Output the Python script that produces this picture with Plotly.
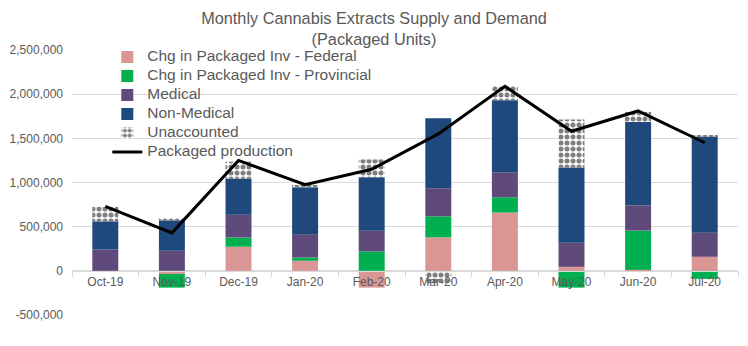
import plotly.graph_objects as go

months = ["Oct-19", "Nov-19", "Dec-19", "Jan-20", "Feb-20", "Mar-20", "Apr-20", "May-20", "Jun-20", "Jul-20"]
federal = [0, -35000, 273000, 114000, -190000, 379000, 660000, 45000, 12000, 159000]
provincial = [0, -155000, 105000, 37000, 220000, 238000, 173000, -190000, 443000, -91000]
medical = [242000, 227000, 258000, 258000, 235000, 318000, 281000, 273000, 287000, 273000]
non_medical = [318000, 345000, 406000, 538000, 605000, 792000, 818000, 852000, 943000, 1091000]
unaccounted = [164000, 27000, 193000, 25000, 201000, -140000, 162000, 542000, 114000, 14000]
production = [730000, 430000, 1250000, 975000, 1150000, 1550000, 2090000, 1580000, 1810000, 1450000]

series_names = ["Chg in Packaged Inv - Federal", "Chg in Packaged Inv - Provincial",
                "Medical", "Non-Medical", "Unaccounted", "Packaged production"]

y_ticks = [-500000, 0, 500000, 1000000, 1500000, 2000000, 2500000]
y_tick_text = ["-500,000", "0", "500,000", "1,000,000", "1,500,000", "2,000,000", "2,500,000"]
y_min, y_max = -500000, 2500000

FONT = "Liberation Sans, Arial, sans-serif"
GREY = "#595959"


def leg(name):
    return '<span style="font-size:15.5px">' + name + "</span>"


checker = dict(shape=".", fgcolor="black", bgcolor="white", size=6, solidity=0.55)

fig = go.Figure()
fig.add_bar(x=months, y=federal, name=leg(series_names[0]),
            marker=dict(color="#DA9694", line_width=0))
fig.add_bar(x=months, y=provincial, name=leg(series_names[1]),
            marker=dict(color="#00B050", line_width=0))
fig.add_bar(x=months, y=medical, name=leg(series_names[2]),
            marker=dict(color="#604A7B", line_width=0))
fig.add_bar(x=months, y=non_medical, name=leg(series_names[3]),
            marker=dict(color="#1F497D", line_width=0))
fig.add_bar(x=months, y=unaccounted, name=leg(series_names[4]),
            marker=dict(color="white", line_width=0, pattern=checker))
fig.add_scatter(x=months, y=production, name=leg(series_names[5]), mode="lines",
                line=dict(color="black", width=3))

fig.update_layout(
    width=748, height=346,
    barmode="relative", bargap=0.61,
    plot_bgcolor="white", paper_bgcolor="white",
    margin=dict(l=72, r=10, t=50, b=31),
    font=dict(family=FONT, color=GREY),
    title=dict(text="Monthly Cannabis Extracts Supply and Demand<br>(Packaged Units)",
               x=0.5, xref="container", xanchor="center",
               y=0.93, yref="container", yanchor="top",
               font=dict(size=16.3, color=GREY, family=FONT)),
    legend=dict(x=0.053, y=1.028, xanchor="left", yanchor="top",
                bgcolor="rgba(0,0,0,0)", traceorder="normal",
                font=dict(size=11, color=GREY, family=FONT)),
    showlegend=True,
)
fig.update_yaxes(range=[y_min, y_max], tickmode="array", tickvals=y_ticks, ticktext=y_tick_text,
                 gridcolor="#D9D9D9", gridwidth=1, zeroline=False, showline=False,
                 tickfont=dict(size=12, color=GREY), ticklabelstandoff=8)
fig.update_xaxes(anchor="free", position=(0 - y_min) / (y_max - y_min),
                 showline=True, linecolor="#D9D9D9", linewidth=1,
                 ticks="outside", tickson="boundaries", ticklen=5, tickcolor="#D9D9D9",
                 showgrid=False, tickfont=dict(size=12, color=GREY))

fig.write_html("out.html")
